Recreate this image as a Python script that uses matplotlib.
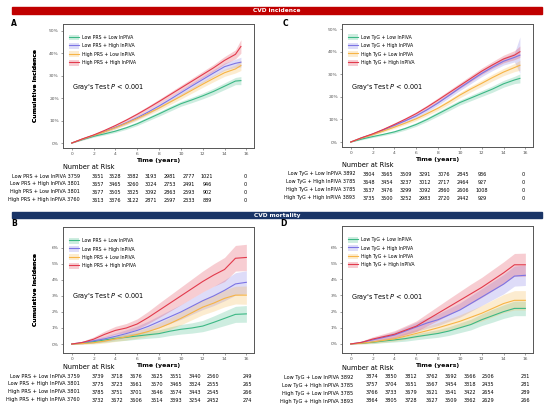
import matplotlib
matplotlib.use("Agg")
import matplotlib.pyplot as plt
from matplotlib.patches import Patch, Rectangle
from matplotlib.lines import Line2D
import numpy as np

# --- data -----------------------------------------------------------------
t_inc = [0, 1, 2, 3, 4, 5, 6, 7, 8, 9, 10, 11, 12, 13, 14, 15, 15.5]
t_mort = [0, 1, 2, 3, 4, 5, 6, 7, 8, 9, 10, 11, 12, 13, 14, 15, 16]

# CVD incidence, PRS (panel A), percent
a_ll = [0, 1.6, 3.0, 4.1, 5.3, 6.8, 8.6, 10.8, 13.0, 15.3, 17.5, 19.2, 21.0, 23.0, 25.3, 27.6, 27.8]
a_lh = [0, 1.8, 3.4, 5.1, 7.0, 9.0, 11.3, 13.8, 16.5, 19.4, 22.4, 25.4, 28.3, 31.2, 34.0, 35.5, 36.0]
a_hl = [0, 1.8, 3.4, 5.0, 6.8, 8.8, 10.9, 13.2, 15.6, 18.2, 20.8, 23.5, 26.2, 28.8, 31.3, 33.0, 34.5]
a_hh = [0, 1.9, 3.6, 5.6, 7.8, 10.2, 12.8, 15.6, 18.5, 21.5, 24.5, 27.5, 30.5, 33.5, 36.8, 39.5, 43.0]
a_ci_ll = [0, .3, .4, .5, .6, .7, .8, .9, 1.0, 1.1, 1.1, 1.2, 1.3, 1.4, 1.5, 1.6, 1.8]
a_ci_lh = [0, .3, .4, .5, .6, .7, .8, .9, 1.0, 1.1, 1.2, 1.3, 1.4, 1.5, 1.6, 1.8, 2.2]
a_ci_hl = [0, .3, .4, .5, .6, .7, .8, .9, 1.0, 1.1, 1.2, 1.3, 1.4, 1.5, 1.6, 1.8, 2.2]
a_ci_hh = [0, .3, .4, .5, .6, .7, .8, .9, 1.0, 1.1, 1.2, 1.3, 1.4, 1.5, 1.7, 2.0, 3.0]

# CVD incidence, TyG (panel C)
c_ll = [0, 1.3, 2.4, 3.4, 4.5, 6.0, 7.8, 10.0, 12.5, 15.0, 17.5, 19.5, 21.5, 23.5, 25.8, 27.5, 28.2]
c_lh = [0, 1.9, 3.5, 5.4, 7.4, 9.4, 11.6, 14.3, 17.3, 20.6, 24.0, 27.2, 30.4, 33.2, 35.8, 37.5, 38.5]
c_hl = [0, 1.8, 3.3, 4.9, 6.6, 8.4, 10.3, 12.6, 15.0, 17.8, 20.8, 23.5, 26.0, 28.6, 31.0, 33.0, 34.0]
c_hh = [0, 1.9, 3.6, 5.6, 7.8, 10.1, 12.6, 15.5, 18.6, 21.8, 25.0, 28.2, 31.4, 34.2, 36.8, 38.5, 40.0]
c_ci_ll = [0, .3, .4, .5, .6, .7, .8, .9, 1.0, 1.1, 1.1, 1.2, 1.3, 1.4, 1.5, 1.6, 2.0]
c_ci_lh = [0, .3, .4, .5, .6, .7, .8, .9, 1.0, 1.1, 1.2, 1.3, 1.4, 1.5, 1.7, 2.0, 8.0]
c_ci_hl = [0, .3, .4, .5, .6, .7, .8, .9, 1.0, 1.1, 1.2, 1.3, 1.4, 1.5, 1.6, 1.8, 2.2]
c_ci_hh = [0, .3, .4, .5, .6, .7, .8, .9, 1.0, 1.1, 1.2, 1.3, 1.4, 1.5, 1.7, 2.0, 2.5]

# CVD mortality, PRS (panel B)
b_ll = [0, 0.05, 0.15, 0.25, 0.35, 0.42, 0.5, 0.58, 0.65, 0.8, 0.92, 1.0, 1.12, 1.35, 1.6, 1.85, 1.88]
b_lh = [0, 0.1, 0.2, 0.32, 0.48, 0.65, 0.85, 1.1, 1.4, 1.7, 2.0, 2.35, 2.7, 3.0, 3.35, 3.75, 3.85]
b_hl = [0, 0.03, 0.08, 0.18, 0.32, 0.45, 0.6, 0.78, 1.0, 1.28, 1.6, 1.95, 2.3, 2.55, 2.85, 3.05, 3.05]
b_hh = [0, 0.1, 0.3, 0.6, 0.85, 1.0, 1.25, 1.65, 2.1, 2.55, 3.0, 3.45, 3.9, 4.3, 4.65, 5.35, 5.4]
b_ci_ll = [0, .05, .1, .14, .17, .19, .2, .22, .24, .27, .3, .32, .35, .4, .45, .5, .52]
b_ci_lh = [0, .08, .12, .16, .2, .24, .28, .32, .37, .42, .46, .5, .55, .6, .65, .7, .72]
b_ci_hl = [0, .04, .08, .12, .16, .2, .24, .28, .32, .36, .4, .44, .48, .5, .53, .55, .57]
b_ci_hh = [0, .08, .14, .2, .25, .28, .32, .38, .45, .5, .55, .6, .65, .7, .75, .8, .82]

# CVD mortality, TyG (panel D)
d_ll = [0, 0.05, 0.1, 0.18, 0.25, 0.33, 0.45, 0.55, 0.65, 0.8, 1.0, 1.2, 1.5, 1.75, 2.0, 2.2, 2.2]
d_lh = [0, 0.1, 0.25, 0.4, 0.55, 0.8, 1.05, 1.3, 1.5, 1.8, 2.1, 2.5, 2.9, 3.3, 3.7, 4.2, 4.25]
d_hl = [0, 0.05, 0.12, 0.22, 0.32, 0.48, 0.65, 0.82, 1.0, 1.2, 1.4, 1.65, 1.9, 2.2, 2.5, 2.7, 2.7]
d_hh = [0, 0.1, 0.3, 0.45, 0.6, 0.85, 1.1, 1.5, 1.9, 2.3, 2.7, 3.1, 3.5, 3.95, 4.4, 4.9, 4.9]
d_ci_ll = [0, .04, .08, .1, .13, .16, .19, .21, .24, .27, .3, .33, .36, .4, .42, .45, .45]
d_ci_lh = [0, .07, .12, .16, .2, .25, .29, .33, .36, .4, .44, .48, .52, .56, .6, .62, .63]
d_ci_hl = [0, .05, .08, .12, .15, .2, .24, .28, .32, .36, .4, .44, .48, .52, .56, .6, .6]
d_ci_hh = [0, .08, .14, .18, .22, .27, .32, .38, .44, .5, .55, .6, .62, .65, .68, .7, .72]

prs_labels = ["Low PRS + Low lnPIVA", "Low PRS + High lnPIVA",
              "High PRS + Low lnPIVA", "High PRS + High lnPIVA"]
tyg_labels = ["Low TyG + Low lnPIVA", "Low TyG + High lnPIVA",
              "High TyG + Low lnPIVA", "High TyG + High lnPIVA"]

# numbers at risk (years 0, 2, 4, ..., 16)
risk_a = [[3759, 3651, 3528, 3382, 3193, 2981, 2777, 1021, 0],
          [3801, 3657, 3465, 3260, 3024, 2753, 2491, 946, 0],
          [3801, 3677, 3505, 3325, 3092, 2863, 2593, 902, 0],
          [3760, 3613, 3376, 3122, 2871, 2597, 2333, 889, 0]]
risk_c = [[3892, 3804, 3665, 3509, 3291, 3076, 2845, 936, 0],
          [3785, 3648, 3454, 3237, 3012, 2717, 2464, 927, 0],
          [3785, 3637, 3476, 3299, 3092, 2860, 2606, 1008, 0],
          [3893, 3735, 3500, 3252, 2983, 2720, 2442, 929, 0]]
risk_b = [[3759, 3739, 3718, 3676, 3625, 3551, 3440, 2560, 249],
          [3801, 3775, 3723, 3661, 3570, 3465, 3324, 2555, 265],
          [3801, 3785, 3751, 3701, 3646, 3574, 3443, 2545, 266],
          [3760, 3732, 3672, 3606, 3514, 3393, 3254, 2452, 274]]
risk_d = [[3892, 3874, 3850, 3812, 3762, 3692, 3566, 2506, 231],
          [3785, 3757, 3704, 3651, 3567, 3454, 3318, 2435, 281],
          [3785, 3766, 3733, 3679, 3621, 3541, 3422, 2654, 289],
          [3893, 3864, 3805, 3728, 3627, 3509, 3362, 2629, 266]]

colors = ["#3cb885", "#7c74e4", "#f7b445", "#e23a4c"]

W, H = 550, 412
fig = plt.figure(figsize=(5.5, 4.12), dpi=100)


def fx(x):
    return x / W


def fy(y):
    return 1 - y / H


def banner(y0, y1, color, text):
    fig.patches.append(Rectangle((fx(12), fy(y1)), fx(530), (y1 - y0) / H,
                                 transform=fig.transFigure, color=color, zorder=0))
    fig.text(fx(277), fy((y0 + y1) / 2), text, color="white", fontsize=4.2,
             fontweight="bold", ha="center", va="center")


banner(7, 14, "#c00000", "CVD incidence")
banner(212, 218, "#1a3567", "CVD mortality")


def panel(box, letter, letter_pos, t, series, cis, labels, yticks, ylim,
          risk, risk_top, label_right, col_x, risk_fs, gray_y):
    x0, y0, x1, y1 = box
    ax = fig.add_axes([fx(x0), fy(y1), (x1 - x0) / W, (y1 - y0) / H])
    for s, ci, c in zip(series, cis, colors):
        s = np.array(s)
        ci = np.array(ci)
        ax.fill_between(t, s - ci, s + ci, color=c, alpha=0.25, lw=0)
        ax.plot(t, s, color=c, lw=0.8)
    ax.set_xlim(-0.8, 16.7)
    ax.set_ylim(*ylim)
    ax.set_xticks(range(0, 17, 2))
    ax.set_yticks(yticks)
    ax.set_yticklabels([f"{v:g}%" for v in yticks])
    ax.tick_params(labelsize=3.2, colors="#555555", length=1.5, width=0.4, pad=1.5)
    for sp in ax.spines.values():
        sp.set_color("#555555")
        sp.set_linewidth(0.7)
    ax.set_xlabel("Time (years)", fontsize=4.5, fontweight="bold", labelpad=1)
    ax.set_ylabel("Cumulative Incidence", fontsize=4.3, fontweight="bold")
    ax.yaxis.set_label_coords((38 - x0) / (x1 - x0), 0.5)
    handles = [(Patch(facecolor=c, alpha=0.25, lw=0), Line2D([], [], color=c, lw=0.8))
               for c in colors]
    ax.legend(handles, labels, loc="upper left", bbox_to_anchor=(0.02, 0.93),
              frameon=False, fontsize=3.3, handlelength=2.2, handleheight=1.6,
              labelspacing=0.55, borderaxespad=0)
    ax.text(0.045, gray_y, "Gray's Test $\\it{P}$ < 0.001", transform=ax.transAxes,
            fontsize=4.7, va="center")
    fig.text(fx(letter_pos[0]), fy(letter_pos[1]), letter, fontsize=5.5,
             fontweight="bold", ha="left", va="center")

    # number at risk table
    fig.text(fx(x0), fy(risk_top), "Number at Risk", fontsize=4.8, va="center")
    for i, (lab, row) in enumerate(zip(labels, risk)):
        yy = fy(risk_top + 9 + i * 8)
        fig.text(fx(label_right), yy, f"{lab} {row[0]}", fontsize=risk_fs,
                 ha="right", va="center")
        for xc, v in zip(col_x, row[1:]):
            fig.text(fx(xc), yy, str(v), fontsize=risk_fs, ha="center", va="center")
    return ax


inc_ticks = [0, 10, 20, 30, 40, 50]
mort_ticks = [0, 1, 2, 3, 4, 5, 6]

panel((63, 24, 254, 148), "A", (11, 24), t_inc, [a_ll, a_lh, a_hl, a_hh],
      [a_ci_ll, a_ci_lh, a_ci_hl, a_ci_hh], prs_labels, inc_ticks, (-2.2, 53),
      risk_a, 167, 80, [98, 115, 133, 151, 170, 189, 207, 245], 3.5, 0.49)
panel((342, 24, 533, 147), "C", (283, 24), t_inc, [c_ll, c_lh, c_hl, c_hh],
      [c_ci_ll, c_ci_lh, c_ci_hl, c_ci_hh], tyg_labels, inc_ticks, (-2.2, 52.3),
      risk_c, 165, 355, [369, 387, 406, 425, 444, 463, 482, 523], 3.5, 0.49)
panel((63, 227, 254, 353), "B", (11, 223), t_mort, [b_ll, b_lh, b_hl, b_hh],
      [b_ci_ll, b_ci_lh, b_ci_hl, b_ci_hh], prs_labels, mort_ticks, (-0.56, 7.3),
      risk_b, 367, 80, [98, 117, 136, 157, 176, 195, 213, 247], 3.6, 0.45)
panel((342, 226, 533, 353), "D", (280, 224), t_mort, [d_ll, d_lh, d_hl, d_hh],
      [d_ci_ll, d_ci_lh, d_ci_hl, d_ci_hh], tyg_labels, mort_ticks, (-0.56, 7.3),
      risk_d, 368, 353, [372, 391, 411, 432, 451, 470, 488, 525], 3.6, 0.44)

fig.savefig("out.png", dpi=100)
